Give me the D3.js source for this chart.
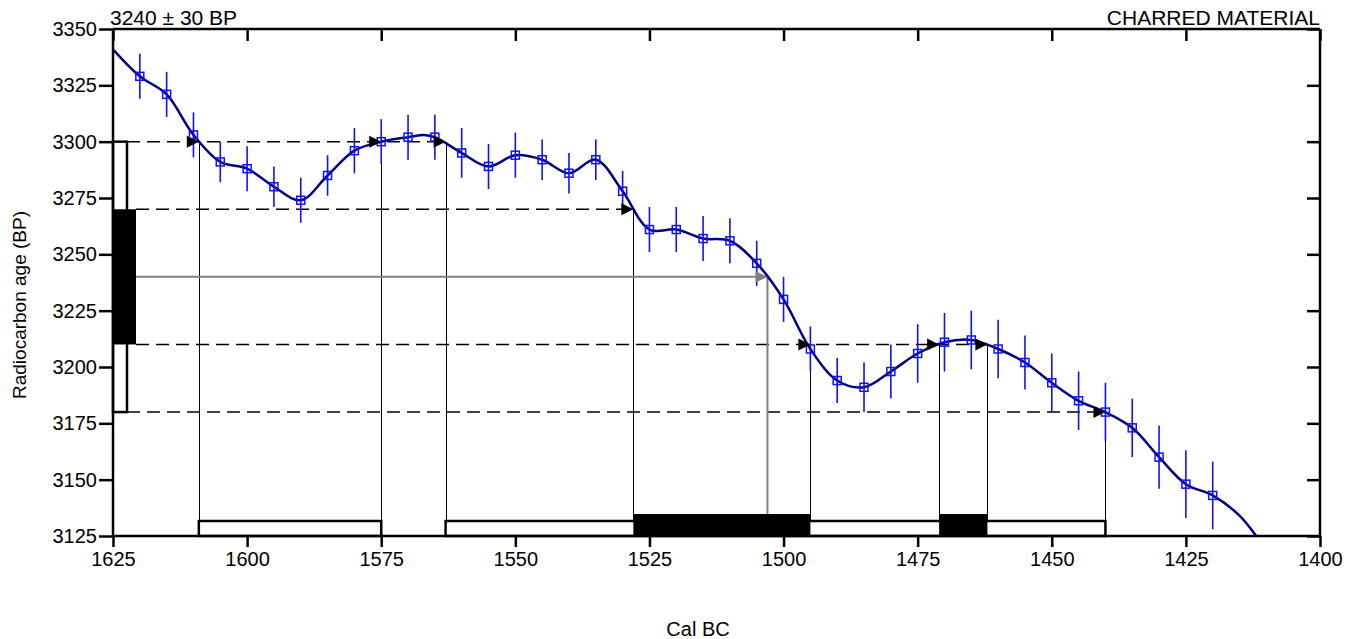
<!DOCTYPE html>
<html>
<head>
<meta charset="utf-8">
<script src="https://cdn.jsdelivr.net/npm/d3@7"></script>
<style>
  html, body { margin: 0; padding: 0; background: #fff; }
  svg { display: block; font-family: "Liberation Sans", Arial, sans-serif; }
</style>
</head>
<body>
<svg id="chart" width="1358" height="639"></svg>
<script>
// ---- Data ----
const titleLeft = "3240 ± 30 BP";
const titleRight = "CHARRED MATERIAL";
const xLabel = "Cal BC";
const yLabel = "Radiocarbon age (BP)";

const xTicks = [1625, 1600, 1575, 1550, 1525, 1500, 1475, 1450, 1425, 1400];
const yTicks = [3125, 3150, 3175, 3200, 3225, 3250, 3275, 3300, 3325, 3350];

// calibration data points (Cal BC, BP, 1-sigma error)
const pointYears = [1620,1615,1610,1605,1600,1595,1590,1585,1580,1575,1570,1565,1560,1555,1550,1545,1540,1535,1530,1525,1520,1515,1510,1505,1500,1495,1490,1485,1480,1475,1470,1465,1460,1455,1450,1445,1440,1435,1430,1425,1420];
const pointBP = [3329,3321,3303,3291,3288,3280,3274,3285,3296,3300,3302,3302,3295,3289,3294,3292,3286,3292,3278,3261,3261,3257,3256,3246,3230,3208,3194,3191,3198,3206,3211,3212,3208,3202,3193,3185,3180,3173,3160,3148,3143];
const pointErr = [10,10,10,9,10,9,10,9,10,10,10,10,11,10,10,9,9,9,9,10,10,10,10,10,10,10,10,11,12,13,13,13,13,12,13,13,13,13,14,15,15];

// calibration curve (smoothed line)
const curveYears = [1625,1620,1615,1610,1605,1600,1595,1590,1585,1580,1575,1570,1567,1565,1560,1555,1550,1545,1540,1535,1530,1525,1520,1515,1510,1505,1500,1495,1490,1485,1480,1475,1470,1465,1460,1455,1450,1445,1440,1435,1430,1425,1420,1415,1410,1405];
const curveBP = [3341,3329,3321,3303,3291,3288,3280,3274,3285,3296,3300,3302,3303,3302,3295,3289,3294,3292,3286,3292,3278,3261,3261,3257,3256,3246,3230,3208,3194,3191,3198,3206,3211,3212,3208,3202,3193,3185,3180,3173,3160,3148,3143,3134,3119,3104];

// measured date
const dateMean = 3240;
const dateSigma = 30;
const meanCrossYear = 1503;

// intercepts of the sigma levels with the curve
const levelBP = [3300, 3270, 3210, 3180];
const levelCrossYears = [[1609, 1575, 1563], [1528], [1495, 1471, 1462], [1440]];

// calibrated ranges
const sigma2Ranges = [[1609, 1575], [1563, 1440]];
const sigma1Ranges = [[1528, 1495], [1471, 1462]];

// ---- Layout ----
const L = 113, R = 1320, T = 29, B = 536;
const svg = d3.select("#chart");
const x = d3.scaleLinear().domain([1625, 1400]).range([L, R]);
const y = d3.scaleLinear().domain([3125, 3350]).range([B, T]);

svg.append("defs").append("clipPath").attr("id", "plotclip")
  .append("rect").attr("x", L).attr("y", T).attr("width", R - L).attr("height", B - T);

const g = svg.append("g");

// left date bars
const openW = 14, fillW = 23;
g.append("rect")
  .attr("x", L).attr("y", y(dateMean + 2 * dateSigma))
  .attr("width", openW).attr("height", y(dateMean - 2 * dateSigma) - y(dateMean + 2 * dateSigma))
  .attr("fill", "#fff").attr("stroke", "#000").attr("stroke-width", 2.5);
g.append("rect")
  .attr("x", L).attr("y", y(dateMean + dateSigma))
  .attr("width", fillW).attr("height", y(dateMean - dateSigma) - y(dateMean + dateSigma))
  .attr("fill", "#000");

// dashed level lines
levelBP.forEach((lv, i) => {
  const startX = (Math.abs(lv - dateMean) > dateSigma) ? L + openW : L + fillW;
  const endX = x(d3.min(levelCrossYears[i]));
  g.append("line")
    .attr("x1", startX).attr("x2", endX)
    .attr("y1", y(lv)).attr("y2", y(lv))
    .attr("stroke", "#000").attr("stroke-width", 1.5)
    .attr("stroke-dasharray", "13,7");
});

// vertical drop lines
levelBP.forEach((lv, i) => {
  levelCrossYears[i].forEach(yr => {
    g.append("line")
      .attr("x1", Math.round(x(yr)) + 0.5).attr("x2", Math.round(x(yr)) + 0.5)
      .attr("y1", y(lv)).attr("y2", B)
      .attr("stroke", "#000").attr("stroke-width", 1);
  });
});

// grey mean line
g.append("line")
  .attr("x1", L + fillW).attr("x2", x(meanCrossYear))
  .attr("y1", y(dateMean)).attr("y2", y(dateMean))
  .attr("stroke", "#808080").attr("stroke-width", 2);
g.append("line")
  .attr("x1", x(meanCrossYear)).attr("x2", x(meanCrossYear))
  .attr("y1", y(dateMean)).attr("y2", B)
  .attr("stroke", "#808080").attr("stroke-width", 2);

// calibration curve
const line = d3.line().x((d, i) => x(curveYears[i])).y(d => y(d)).curve(d3.curveCatmullRom.alpha(0.5));
g.append("path").datum(curveBP)
  .attr("clip-path", "url(#plotclip)")
  .attr("d", line)
  .attr("fill", "none").attr("stroke", "#000080").attr("stroke-width", 2.5);

// error bars & squares
const pts = pointYears.map((yr, i) => ({ yr, bp: pointBP[i], e: pointErr[i] }));
g.selectAll(".err").data(pts).enter().append("line")
  .attr("x1", d => x(d.yr)).attr("x2", d => x(d.yr))
  .attr("y1", d => y(d.bp + d.e)).attr("y2", d => y(d.bp - d.e))
  .attr("stroke", "#1010ff").attr("stroke-width", 1.6);
g.selectAll(".sq").data(pts).enter().append("rect")
  .attr("x", d => x(d.yr) - 4).attr("y", d => y(d.bp) - 4)
  .attr("width", 8).attr("height", 8)
  .attr("fill", "none").attr("stroke", "#1010ff").attr("stroke-width", 1.5);

// arrow heads
function arrow(px, py, color) {
  g.append("path")
    .attr("d", `M${px},${py} L${px - 12},${py - 6} L${px - 12},${py + 6} Z`)
    .attr("fill", color);
}
levelBP.forEach((lv, i) => levelCrossYears[i].forEach(yr => arrow(x(yr), y(lv), "#000")));
arrow(x(meanCrossYear), y(dateMean), "#808080");

// bottom calibrated range bars
sigma2Ranges.forEach(r => {
  g.append("rect")
    .attr("x", x(r[0])).attr("y", B - 15)
    .attr("width", x(r[1]) - x(r[0])).attr("height", 15)
    .attr("fill", "#fff").attr("stroke", "#000").attr("stroke-width", 2.5);
});
sigma1Ranges.forEach(r => {
  g.append("rect")
    .attr("x", x(r[0])).attr("y", B - 22)
    .attr("width", x(r[1]) - x(r[0])).attr("height", 22)
    .attr("fill", "#000");
});

// ---- Axes ----
const fs = "20px";
const axB = svg.append("g").attr("transform", `translate(0,${B})`)
  .call(d3.axisBottom(x).tickValues(xTicks).tickFormat(d3.format("d")).tickSize(11).tickPadding(5));
const axL = svg.append("g").attr("transform", `translate(${L},0)`)
  .call(d3.axisLeft(y).tickValues(yTicks).tickFormat(d3.format("d")).tickSize(14).tickPadding(2));
const axT = svg.append("g").attr("transform", `translate(0,${T})`)
  .call(d3.axisTop(x).tickValues(xTicks).tickFormat("").tickSize(-12));
const axR = svg.append("g").attr("transform", `translate(${R},0)`)
  .call(d3.axisRight(y).tickValues(yTicks).tickFormat("").tickSize(-13));
[axB, axL, axT, axR].forEach(a => {
  a.select(".domain").attr("stroke", "#000").attr("stroke-width", 2.5);
  a.selectAll(".tick line").attr("stroke", "#000").attr("stroke-width", 2.5);
  a.selectAll(".tick text").attr("fill", "#000").style("font-size", fs)
    .style("font-family", "'Liberation Sans', Arial, sans-serif");
});
axB.select(".domain").attr("d", `M${L},0H${R}`);
axT.select(".domain").attr("d", `M${L},0H${R}`);
axL.select(".domain").attr("d", `M0,${T}V${B}`);
axR.select(".domain").attr("d", `M0,${T}V${B}`);

// titles
svg.append("text").attr("x", 110).attr("y", 25).attr("font-size", 21).attr("fill", "#000").text(titleLeft);
svg.append("text").attr("x", R).attr("y", 25).attr("text-anchor", "end").attr("font-size", 21).attr("fill", "#000").text(titleRight);
svg.append("text").attr("x", 698).attr("y", 636).attr("text-anchor", "middle").attr("font-size", 20).attr("fill", "#000").text(xLabel);
svg.append("text").attr("transform", "translate(26,305) rotate(-90)").attr("text-anchor", "middle")
  .attr("font-size", 19).attr("fill", "#000").text(yLabel);
</script>
</body>
</html>
